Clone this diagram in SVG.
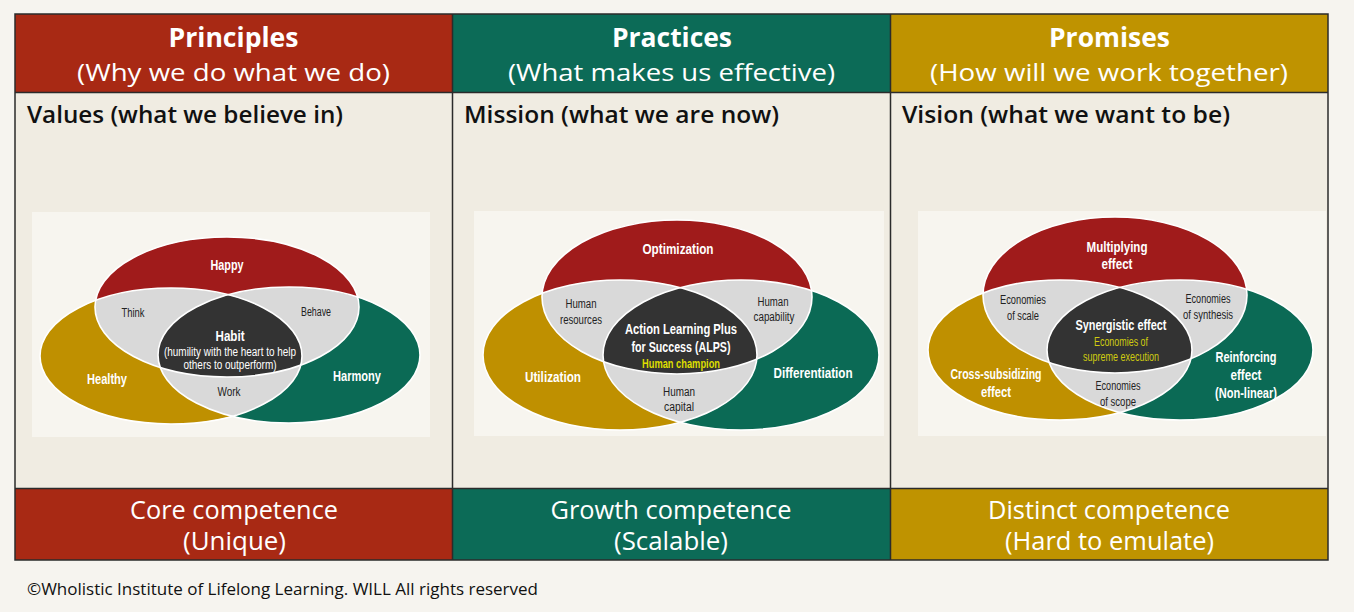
<svg xmlns="http://www.w3.org/2000/svg" width="1354" height="612" viewBox="0 0 1354 612">
<style>
.hd{font-family:"Open Sans","Noto Sans","Liberation Sans",sans-serif;fill:#fff;text-anchor:middle}
.t1{font-size:26px;font-weight:700}
.t2{font-size:24px;font-weight:400}
.sub{font-family:"Open Sans","Noto Sans","Liberation Sans",sans-serif;font-size:23px;font-weight:600;fill:#111}
.ft{font-family:"Open Sans","Noto Sans","Liberation Sans",sans-serif;font-size:25px;fill:#fff;text-anchor:middle}
.cp{font-family:"Open Sans","Noto Sans","Liberation Sans",sans-serif;font-size:17px;fill:#111}
.vb{font-family:"Liberation Sans","Arial",sans-serif;font-size:14px;font-weight:700;fill:#fff;text-anchor:middle}
.vs{font-family:"Liberation Sans","Arial",sans-serif;font-size:12.5px;fill:#222;text-anchor:middle}
.vw{font-family:"Liberation Sans","Arial",sans-serif;font-size:12.5px;fill:#fff;text-anchor:middle}
.vy{font-family:"Liberation Sans","Arial",sans-serif;font-size:12.5px;fill:#dede00;text-anchor:middle}
.red{fill:#a01b1b}.gold{fill:#bf9000}.green{fill:#0b6a55}.gray{fill:#d9d9d9}.dark{fill:#333}
.ol{fill:none;stroke:#fff;stroke-width:1.6}
.panel{fill:#f7f5ef}
.grid{fill:none;stroke:#2b2b2b;stroke-width:1.5}
</style>
<defs>
<clipPath id="r1"><ellipse cx="227" cy="307" rx="132" ry="70"/></clipPath>
<clipPath id="g1"><ellipse cx="171" cy="356" rx="131" ry="68"/></clipPath>
<clipPath id="r2"><ellipse cx="677" cy="297" rx="135" ry="77"/></clipPath>
<clipPath id="g2"><ellipse cx="620" cy="355" rx="137" ry="75"/></clipPath>
<clipPath id="r3"><ellipse cx="1115" cy="295" rx="132" ry="78"/></clipPath>
<clipPath id="g3"><ellipse cx="1060" cy="350" rx="132" ry="70"/></clipPath>
</defs>
<rect width="1354" height="612" fill="#f6f4ef"/>

<g id="table">
<rect x="15" y="14" width="437.5" height="78.5" fill="#a82914"/>
<rect x="452.5" y="14" width="438" height="78.5" fill="#0c6b57"/>
<rect x="890.5" y="14" width="437.5" height="78.5" fill="#bf9300"/>
<rect x="15" y="92.5" width="1313" height="396" fill="#f0ece2"/>
<rect x="15" y="488.5" width="437.5" height="71.5" fill="#a82914"/>
<rect x="452.5" y="488.5" width="438" height="71.5" fill="#0c6b57"/>
<rect x="890.5" y="488.5" width="437.5" height="71.5" fill="#bf9300"/>
<rect class="grid" x="15" y="14" width="1313" height="546"/>
<line class="grid" x1="452.5" y1="14" x2="452.5" y2="560"/>
<line class="grid" x1="890.5" y1="14" x2="890.5" y2="560"/>
<line class="grid" x1="15" y1="92.5" x2="1328" y2="92.5"/>
<line class="grid" x1="15" y1="488.5" x2="1328" y2="488.5"/>
</g>

<g id="header-principles">
<text class="hd t1" x="233.5" y="47" textLength="130" lengthAdjust="spacingAndGlyphs">Principles</text>
<text class="hd t2" x="233.5" y="81" textLength="313" lengthAdjust="spacingAndGlyphs">(Why we do what we do)</text>
</g>
<g id="header-practices">
<text class="hd t1" x="672" y="47" textLength="120" lengthAdjust="spacingAndGlyphs">Practices</text>
<text class="hd t2" x="671.5" y="81" textLength="327" lengthAdjust="spacingAndGlyphs">(What makes us effective)</text>
</g>
<g id="header-promises">
<text class="hd t1" x="1109.5" y="47" textLength="121" lengthAdjust="spacingAndGlyphs">Promises</text>
<text class="hd t2" x="1109" y="81" textLength="358" lengthAdjust="spacingAndGlyphs">(How will we work together)</text>
</g>

<g id="label-values"><text class="sub" x="27" y="123" textLength="316" lengthAdjust="spacingAndGlyphs">Values (what we believe in)</text></g>
<g id="label-mission"><text class="sub" x="464" y="123" textLength="315" lengthAdjust="spacingAndGlyphs">Mission (what we are now)</text></g>
<g id="label-vision"><text class="sub" x="902" y="123" textLength="328" lengthAdjust="spacingAndGlyphs">Vision (what we want to be)</text></g>

<g id="venn-values">
<rect class="panel" x="32" y="212" width="398" height="225"/>
<ellipse class="red" cx="227" cy="307" rx="132" ry="70"/>
<ellipse class="gold" cx="171" cy="356" rx="131" ry="68"/>
<ellipse class="green" cx="289" cy="355" rx="131" ry="68"/>
<g clip-path="url(#r1)"><ellipse class="gray" cx="171" cy="356" rx="131" ry="68"/><ellipse class="gray" cx="289" cy="355" rx="131" ry="68"/></g>
<g clip-path="url(#g1)"><ellipse class="gray" cx="289" cy="355" rx="131" ry="68"/></g>
<g clip-path="url(#r1)"><g clip-path="url(#g1)"><ellipse class="dark" cx="289" cy="355" rx="131" ry="68"/></g></g>
<ellipse class="ol" cx="227" cy="307" rx="132" ry="70"/>
<ellipse class="ol" cx="171" cy="356" rx="131" ry="68"/>
<ellipse class="ol" cx="289" cy="355" rx="131" ry="68"/>
<text class="vb" x="227" y="270" textLength="33" lengthAdjust="spacingAndGlyphs">Happy</text>
<text class="vs" x="133" y="317" textLength="23" lengthAdjust="spacingAndGlyphs">Think</text>
<text class="vs" x="316" y="316" textLength="30" lengthAdjust="spacingAndGlyphs">Behave</text>
<text class="vb" x="230" y="341" textLength="29" lengthAdjust="spacingAndGlyphs">Habit</text>
<text class="vw" x="230" y="356" textLength="132" lengthAdjust="spacingAndGlyphs">(humility with the heart to help</text>
<text class="vw" x="230" y="369" textLength="93" lengthAdjust="spacingAndGlyphs">others to outperform)</text>
<text class="vb" x="107" y="384" textLength="40" lengthAdjust="spacingAndGlyphs">Healthy</text>
<text class="vb" x="357" y="381" textLength="48" lengthAdjust="spacingAndGlyphs">Harmony</text>
<text class="vs" x="229" y="396" textLength="23" lengthAdjust="spacingAndGlyphs">Work</text>
</g>

<g id="venn-mission">
<rect class="panel" x="474" y="211" width="410" height="225"/>
<ellipse class="red" cx="677" cy="297" rx="135" ry="77"/>
<ellipse class="gold" cx="620" cy="355" rx="137" ry="75"/>
<ellipse class="green" cx="741" cy="355" rx="138" ry="75"/>
<g clip-path="url(#r2)"><ellipse class="gray" cx="620" cy="355" rx="137" ry="75"/><ellipse class="gray" cx="741" cy="355" rx="138" ry="75"/></g>
<g clip-path="url(#g2)"><ellipse class="gray" cx="741" cy="355" rx="138" ry="75"/></g>
<g clip-path="url(#r2)"><g clip-path="url(#g2)"><ellipse class="dark" cx="741" cy="355" rx="138" ry="75"/></g></g>
<ellipse class="ol" cx="677" cy="297" rx="135" ry="77"/>
<ellipse class="ol" cx="620" cy="355" rx="137" ry="75"/>
<ellipse class="ol" cx="741" cy="355" rx="138" ry="75"/>
<text class="vb" x="678" y="254" textLength="71" lengthAdjust="spacingAndGlyphs">Optimization</text>
<text class="vs" x="581" y="308" textLength="31" lengthAdjust="spacingAndGlyphs">Human</text>
<text class="vs" x="581" y="324" textLength="42" lengthAdjust="spacingAndGlyphs">resources</text>
<text class="vs" x="773" y="306" textLength="31" lengthAdjust="spacingAndGlyphs">Human</text>
<text class="vs" x="774" y="321" textLength="41" lengthAdjust="spacingAndGlyphs">capability</text>
<text class="vb" x="681" y="334" textLength="112" lengthAdjust="spacingAndGlyphs">Action Learning Plus</text>
<text class="vb" x="681" y="352" textLength="99" lengthAdjust="spacingAndGlyphs">for Success (ALPS)</text>
<text class="vy" x="681" y="368" font-weight="700" textLength="78" lengthAdjust="spacingAndGlyphs">Human champion</text>
<text class="vb" x="553" y="382" textLength="56" lengthAdjust="spacingAndGlyphs">Utilization</text>
<text class="vb" x="813" y="378" textLength="79" lengthAdjust="spacingAndGlyphs">Differentiation</text>
<text class="vs" x="679" y="396" textLength="32" lengthAdjust="spacingAndGlyphs">Human</text>
<text class="vs" x="679" y="411" textLength="30" lengthAdjust="spacingAndGlyphs">capital</text>
</g>

<g id="venn-vision">
<rect class="panel" x="918" y="211" width="408" height="225"/>
<ellipse class="red" cx="1115" cy="295" rx="132" ry="78"/>
<ellipse class="gold" cx="1060" cy="350" rx="132" ry="70"/>
<ellipse class="green" cx="1180" cy="350" rx="133" ry="70"/>
<g clip-path="url(#r3)"><ellipse class="gray" cx="1060" cy="350" rx="132" ry="70"/><ellipse class="gray" cx="1180" cy="350" rx="133" ry="70"/></g>
<g clip-path="url(#g3)"><ellipse class="gray" cx="1180" cy="350" rx="133" ry="70"/></g>
<g clip-path="url(#r3)"><g clip-path="url(#g3)"><ellipse class="dark" cx="1180" cy="350" rx="133" ry="70"/></g></g>
<ellipse class="ol" cx="1115" cy="295" rx="132" ry="78"/>
<ellipse class="ol" cx="1060" cy="350" rx="132" ry="70"/>
<ellipse class="ol" cx="1180" cy="350" rx="133" ry="70"/>
<text class="vb" x="1117" y="252" textLength="61" lengthAdjust="spacingAndGlyphs">Multiplying</text>
<text class="vb" x="1117" y="269" textLength="31" lengthAdjust="spacingAndGlyphs">effect</text>
<text class="vs" x="1023" y="304" textLength="46" lengthAdjust="spacingAndGlyphs">Economies</text>
<text class="vs" x="1023" y="320" textLength="32" lengthAdjust="spacingAndGlyphs">of scale</text>
<text class="vs" x="1208" y="303" textLength="45" lengthAdjust="spacingAndGlyphs">Economies</text>
<text class="vs" x="1208" y="319" textLength="50" lengthAdjust="spacingAndGlyphs">of synthesis</text>
<text class="vb" x="1121" y="330" textLength="91" lengthAdjust="spacingAndGlyphs">Synergistic effect</text>
<text class="vy" x="1121" y="346" style="fill:#cfcb10" textLength="54" lengthAdjust="spacingAndGlyphs">Economies of</text>
<text class="vy" x="1121" y="361" style="fill:#cfcb10" textLength="76" lengthAdjust="spacingAndGlyphs">supreme execution</text>
<text class="vb" x="996" y="379" textLength="91" lengthAdjust="spacingAndGlyphs">Cross-subsidizing</text>
<text class="vb" x="996" y="397" textLength="30" lengthAdjust="spacingAndGlyphs">effect</text>
<text class="vb" x="1246" y="362" textLength="61" lengthAdjust="spacingAndGlyphs">Reinforcing</text>
<text class="vb" x="1246" y="380" textLength="31" lengthAdjust="spacingAndGlyphs">effect</text>
<text class="vb" x="1246" y="398" textLength="62" lengthAdjust="spacingAndGlyphs">(Non-linear)</text>
<text class="vs" x="1118" y="390" textLength="45" lengthAdjust="spacingAndGlyphs">Economies</text>
<text class="vs" x="1118" y="406" textLength="36" lengthAdjust="spacingAndGlyphs">of scope</text>
</g>

<g id="footer-core">
<text class="ft" x="234" y="519" textLength="208" lengthAdjust="spacingAndGlyphs">Core competence</text>
<text class="ft" x="234.5" y="550" textLength="103" lengthAdjust="spacingAndGlyphs">(Unique)</text>
</g>
<g id="footer-growth">
<text class="ft" x="671" y="519" textLength="241" lengthAdjust="spacingAndGlyphs">Growth competence</text>
<text class="ft" x="671" y="550" textLength="114" lengthAdjust="spacingAndGlyphs">(Scalable)</text>
</g>
<g id="footer-distinct">
<text class="ft" x="1109" y="519" textLength="242" lengthAdjust="spacingAndGlyphs">Distinct competence</text>
<text class="ft" x="1109.5" y="550" textLength="209" lengthAdjust="spacingAndGlyphs">(Hard to emulate)</text>
</g>

<g id="connectors"></g>

<text class="cp" x="27" y="595" textLength="511" lengthAdjust="spacingAndGlyphs">©Wholistic Institute of Lifelong Learning. WILL All rights reserved</text>
</svg>
